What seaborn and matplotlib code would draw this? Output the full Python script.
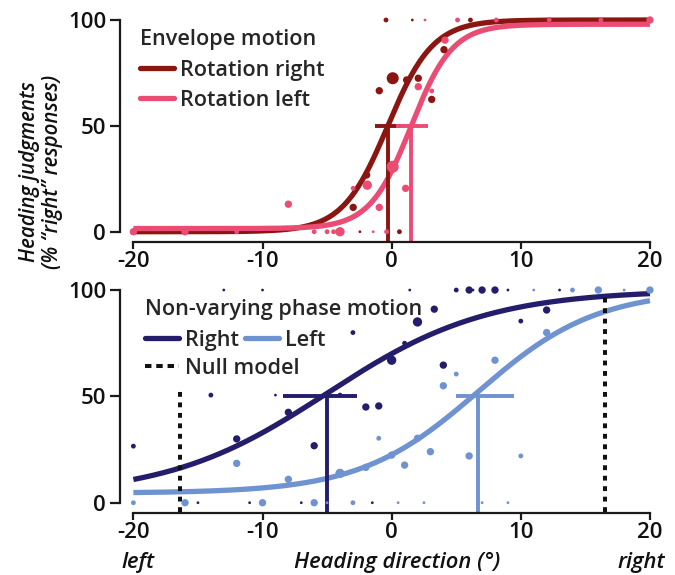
import numpy as np
import pandas as pd
import matplotlib
matplotlib.use("Agg")
import matplotlib.pyplot as plt
import seaborn as sns
from matplotlib.lines import Line2D

sns.set_theme(style="ticks")
plt.rcParams['font.family'] = ['Open Sans', 'DejaVu Sans']
plt.rcParams['font.weight'] = 600
plt.rcParams['axes.unicode_minus'] = False

# ---- top panel: envelope motion ----
env_right_x = [-0.44, 1.6, 6.1, 12.2, 0.08, 1.16, 2.06, -0.96, 3.1, 4.05, -1.94, -2.98, -2.46, 0.6]
env_right_y = [100, 100, 100, 100, 72.5, 71.7, 72.5, 66.6, 62.5, 86, 26.8, 11.5, 0, 0]
env_right_n = [2, 1, 2, 2, 5, 3, 3, 3, 3, 3, 3, 3, 1, 2]

env_left_x = [2.58, 5.1, 8.1, 12.2, 16.2, 20, 4.13, 2.06, 3.1, 0.6, -1.89, -2.98, 0.08, 1.08,
              -0.96, -8.0, -20, -16, -12, -6, -5, -4.5, -4, -1.43, -0.39]
env_left_y = [100, 100, 100, 100, 100, 100, 90.5, 68.5, 66.5, 50, 22, 20.5, 30.7, 20.5,
              11.5, 13, 0, 0, 0, 0, 0, 0, 0, 0, 0]
env_left_n = [1, 2, 2, 2, 2, 3, 3, 3, 2, 1, 4, 2, 5, 3,
              3, 3, 3, 3, 2, 2, 2, 2, 4, 1, 2]

# fitted psychometric functions: right, left
env_mu = [-0.3, 1.5]
env_slope = [1.75, 1.6]
env_guess = [0, 1.5]
env_lapse = [0, 2]
env_ci_lo = [-1.3, 0.3]
env_ci_hi = [0.7, 2.8]

# ---- bottom panel: non-varying phase motion ----
ph_right_x = [-13, -10, 1.4, 5, 6, 6.3, 7, 8, 9, 13, -14, -9, -20, -12, -8, -6, -4, -2, -1,
              -3, 0, 1, 2, 3.3, 4, 10, 12, -15, -11, -7, -1.5]
ph_right_y = [100, 100, 100, 100, 100, 100, 100, 100, 100, 100, 50.6, 50.6, 26.6, 30, 42.5,
              26.8, 50.6, 45, 45.5, 80, 67, 75, 85, 91, 64.7, 85.4, 90.6, 0, 0, 0, 0]
ph_right_n = [1, 1, 1, 2, 3, 1, 3, 3, 1, 1, 2, 1, 2, 3, 3, 3, 2, 3, 3,
              2, 4, 2, 4, 3, 3, 2, 3, 1, 1, 1, 1]

ph_left_x = [-12, -8, -20, -16, -10, -6, -5, -3, 0.5, 2.5, 7, 9, 8, 5, 4, -1, 2, 3, 0, 1,
             -2, -4, 6, 10, 11, 14, 16, 18, 20, 12]
ph_left_y = [18.5, 11, 0, 0, 0, 0, 0, 0, 0, 0, 0, 0, 67, 60.5, 55, 30.3, 30.3, 24, 22.4, 17.7,
             16.6, 13.8, 22, 22, 100, 100, 100, 100, 100, 80]
ph_left_n = [3, 3, 2, 3, 3, 3, 1, 2, 1, 1, 1, 1, 3, 2, 3, 2, 3, 3, 3, 3,
             3, 4, 3, 2, 1, 2, 3, 1, 3, 3]

ph_mu = [-5, 6.7]
ph_slope = [6.2, 4.6]
ph_guess = [3, 4.5]
ph_lapse = [0, 0]
ph_ci_lo = [-8.4, 5.0]
ph_ci_hi = [-2.7, 9.5]

null_x = [-16.4, 16.5]
null_top = [54, 98]

# colours
c_red, c_pink = '#8b1510', '#ea4c74'
c_navy, c_sky = '#241d6b', '#6f92d1'
size_map = {1: 4, 2: 12, 3: 28, 4: 45, 5: 75}


def psych(x, mu, s, g, l):
    return g + (100 - g - l) / (1 + np.exp(-(x - mu) / s))


def style_axis(ax):
    ax.set_xlim(-20, 20)
    ax.set_ylim(0, 100)
    ax.set_xticks([-20, -10, 0, 10, 20])
    ax.set_yticks([0, 50, 100])
    sns.despine(ax=ax)
    ax.spines['left'].set_position(('outward', 9.6))
    ax.spines['bottom'].set_position(('outward', 7.2))
    ax.spines['left'].set_bounds(0, 100)
    ax.spines['bottom'].set_bounds(-20, 20)
    for sp in ['left', 'bottom']:
        ax.spines[sp].set_linewidth(1.6)
        ax.spines[sp].set_color('#1a1a1a')
    ax.tick_params(width=1.6, labelsize=16, color='#1a1a1a', labelcolor='#111111')
    ax.tick_params(axis='y', length=7, pad=3)
    ax.tick_params(axis='x', length=5, pad=2)
    ax.set_xlabel('')
    ax.set_ylabel('')
    ax.patch.set_alpha(0)


def draw_panel(ax, series, mus, slopes, guesses, lapses, lo, hi, spine_y):
    xs = np.linspace(-20, 20, 400)
    for (x, y, n, col), mu, s, g, l in zip(series, mus, slopes, guesses, lapses):
        sns.lineplot(x=xs, y=psych(xs, mu, s, g, l), color=col, lw=3.8, ax=ax, clip_on=False,
                     solid_capstyle='butt')
    for (x, y, n, col), mu, a, b in zip(series, mus, lo, hi):
        ax.plot([a, b], [50, 50], color=col, lw=2.8, solid_capstyle='butt')
        ax.plot([mu, mu], [spine_y, 50], color=col, lw=2.8, clip_on=False, solid_capstyle='butt')
    for x, y, n, col in series:
        df = pd.DataFrame({'x': x, 'y': y, 'n': n})
        sns.scatterplot(data=df, x='x', y='y', size='n', sizes=size_map, color=col,
                        linewidth=0, legend=False, ax=ax, clip_on=False, zorder=4)


fig = plt.figure(figsize=(6.75, 5.75), dpi=100)
ax_top = fig.add_axes([0.1976, 0.597, 0.7653, 0.3682])
ax_bot = fig.add_axes([0.1976, 0.1257, 0.7653, 0.3699])

draw_panel(ax_top,
           [(env_right_x, env_right_y, env_right_n, c_red), (env_left_x, env_left_y, env_left_n, c_pink)],
           env_mu, env_slope, env_guess, env_lapse, env_ci_lo, env_ci_hi, -4.8)
draw_panel(ax_bot,
           [(ph_right_x, ph_right_y, ph_right_n, c_navy), (ph_left_x, ph_left_y, ph_left_n, c_sky)],
           ph_mu, ph_slope, ph_guess, ph_lapse, ph_ci_lo, ph_ci_hi, -4.5)
for xv, top in zip(null_x, null_top):
    ax_bot.plot([xv, xv], [-4.5, top], color='#111111', lw=2.9, ls=(0, (1.2, 1.4)), clip_on=False)

style_axis(ax_top)
style_axis(ax_bot)

# legends
leg_kw = dict(frameon=False, fontsize=15.6, title_fontsize=15.6, alignment='left', handlelength=1.55,
              handletextpad=0.28, labelspacing=0.44, borderpad=0, borderaxespad=0,
              loc='upper left', bbox_transform=fig.transFigure)
ax_top.legend([Line2D([], [], color=c_red, lw=3.8), Line2D([], [], color=c_pink, lw=3.8)],
              ['Rotation right', 'Rotation left'], title='Envelope motion',
              bbox_to_anchor=(140 / 675, 1 - 29 / 575), **leg_kw)

leg1 = ax_bot.legend([Line2D([], [], color=c_navy, lw=3.8), Line2D([], [], color=c_sky, lw=3.8)],
                     ['Right', 'Left'], title='Non-varying phase motion', ncol=2, columnspacing=0.3,
                     bbox_to_anchor=(145 / 675, 1 - 299 / 575), **leg_kw)
ax_bot.add_artist(leg1)
ax_bot.legend([Line2D([], [], color='#111111', lw=2.9, ls=(0, (1.6, 1.2)))], ['Null model'],
              bbox_to_anchor=(145 / 675, 1 - 358 / 575), **leg_kw)

# axis labels
fig.text(41 / 675, 1 - 172 / 575, 'Heading judgments\n(% \u201cright\u201d responses)', rotation=90,
         ha='center', va='center', style='italic', fontsize=14.8, linespacing=1.1, color='#111111')
for xp, txt in [(138, 'left'), (397, 'Heading direction (\u00b0)'), (641, 'right')]:
    fig.text(xp / 675, 1 - 568 / 575, txt, ha='center', va='baseline', style='italic',
             fontsize=15.8, color='#111111')

fig.savefig('out.png', dpi=100)
